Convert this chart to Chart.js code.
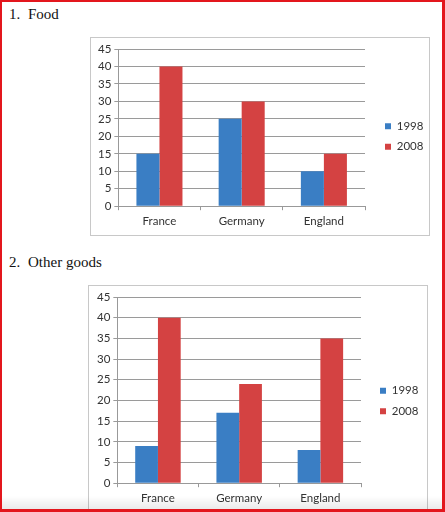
<!DOCTYPE html>
<html>
<head>
<meta charset="utf-8">
<script src="https://cdn.jsdelivr.net/npm/chart.js@4/dist/chart.umd.min.js"></script>
<style>
  body { margin: 0; background: #fff; }
  #page { position: relative; width: 445px; height: 512px; overflow: hidden; background: #fff; }
  .title { position: absolute; font-family: "Liberation Serif", serif; font-size: 15px; color: #111; }
  .title span { display: inline-block; width: 19px; }
  .box { position: absolute; border: 1px solid #c8c8c8; box-sizing: border-box; background: #fff; }
  .box canvas { display: block; }
  #frame { position: absolute; left: 0; top: 0; width: 445px; height: 512px; box-sizing: border-box;
           border: 2px solid #e3161d; border-right-width: 3px; border-bottom-width: 3px; pointer-events: none; }
  #shade { position: absolute; left: 0; top: 496px; width: 445px; height: 16px;
           background: linear-gradient(rgba(0,0,0,0), rgba(0,0,0,0.10)); pointer-events: none; }
</style>
</head>
<body>
<div id="page">
  <div class="title" style="left:9px; top:6px;"><span>1.</span>Food</div>
  <div class="box" style="left:90px; top:37px; width:340px; height:199px;">
    <canvas id="food"></canvas>
  </div>
  <div class="title" style="left:9px; top:254px;"><span>2.</span>Other goods</div>
  <div class="box" style="left:88px; top:285px; width:340px; height:234px;">
    <canvas id="other"></canvas>
  </div>
  <div id="shade"></div>
  <div id="frame"></div>
</div>
<script>
// countries and years
let countries = ["France", "Germany", "England"];
let years = ["1998", "2008"];

// 1. Food
let food1998 = [15, 25, 10];
let food2008 = [40, 30, 15];

// 2. Other goods
let other1998 = [9, 17, 8];
let other2008 = [40, 24, 35];

let yTicks = [0, 5, 10, 15, 20, 25, 30, 35, 40, 45];

const blue = '#3a7ec4';
const red = '#d44242';
const axisFont = { family: 'Lato', size: 11.5 };

// fix the width of the legend column on the right, then nudge it
function legendPlacer(dx, dy) {
    return {
        id: 'legendPlacer',
        beforeInit(chart) {
            const fit = chart.legend.fit;
            chart.legend.fit = function () {
                fit.bind(chart.legend)();
                this.width = 64;
            };
        },
        afterLayout(chart) {
            const lg = chart.legend;
            lg.left += dx; lg.right += dx;
            lg.top += dy; lg.bottom += dy;
        }
    };
}

function BarChart(id, d1998, d2008, w, h, pad, dx, dy) {
    const cv = document.getElementById(id);
    cv.width = w;
    cv.height = h;
    cv.style.width = w + 'px';
    cv.style.height = h + 'px';
    return new Chart(cv.getContext('2d'), {
        type: 'bar',
        data: {
            labels: countries,
            datasets: [
                { label: years[0], data: d1998, backgroundColor: blue, barPercentage: 1, categoryPercentage: 0.56 },
                { label: years[1], data: d2008, backgroundColor: red, barPercentage: 1, categoryPercentage: 0.56 }
            ]
        },
        options: {
            responsive: false,
            animation: false,
            devicePixelRatio: 1,
            layout: { padding: pad },
            plugins: {
                tooltip: { enabled: false },
                legend: {
                    position: 'right',
                    labels: {
                        boxWidth: 6, boxHeight: 6, padding: 9,
                        color: '#333', font: axisFont
                    }
                }
            },
            scales: {
                x: {
                    grid: { offset: true, drawOnChartArea: false, color: '#999', tickLength: 4 },
                    border: { color: '#999' },
                    ticks: { color: '#333', font: axisFont, padding: 4 }
                },
                y: {
                    min: 0, max: 45,
                    afterBuildTicks(axis) { axis.ticks = yTicks.map(v => ({ value: v })); },
                    grid: { color: '#9a9a9a', tickLength: 4 },
                    border: { color: '#999' },
                    ticks: { color: '#333', font: axisFont, padding: 3 }
                }
            }
        },
        plugins: [legendPlacer(dx, dy)]
    });
}

BarChart('food', food1998, food2008, 338, 197, { left: 4, top: 11, right: 0, bottom: 3 }, 11, -4);
BarChart('other', other1998, other2008, 338, 232, { left: 5, top: 11, right: 2, bottom: 9 }, 10, -2);
</script>
</body>
</html>
